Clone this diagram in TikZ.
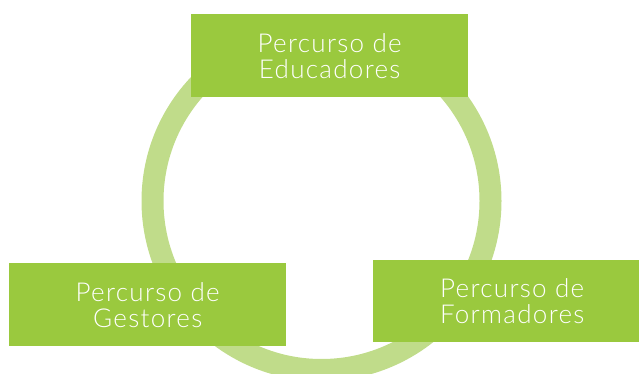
\documentclass[tikz,border=0pt]{standalone}
\usepackage{fontspec}
\setmainfont{Lato}[UprightFont=* Light, LetterSpace=5]
\definecolor{boxgreen}{RGB}{154,201,62}
\definecolor{ringgreen}{RGB}{192,220,138}
\begin{document}
\begin{tikzpicture}[x=1pt,y=-1pt,
  box/.style={fill=boxgreen, text=white, minimum width=277pt, minimum height=83pt,
    inner sep=0pt, align=center, anchor=north west,
    font=\fontsize{26}{26}\selectfont},
  ring/.style={circle, draw=ringgreen, line width=22pt, minimum size=338pt, inner sep=0pt}]
\useasboundingbox (0,0) rectangle (639,374);
\clip (0,0) rectangle (639,374);
\node[ring] (cycle) at (321.5,201) {};
\node[box] (edu) at (191,14) {Percurso de\\Educadores};
\node[box] (ges) at (9,263) {Percurso de\\Gestores};
\node[box, minimum width=278pt, minimum height=82pt] (for) at (373,260) {Percurso de\\Formadores};
\end{tikzpicture}
\end{document}
